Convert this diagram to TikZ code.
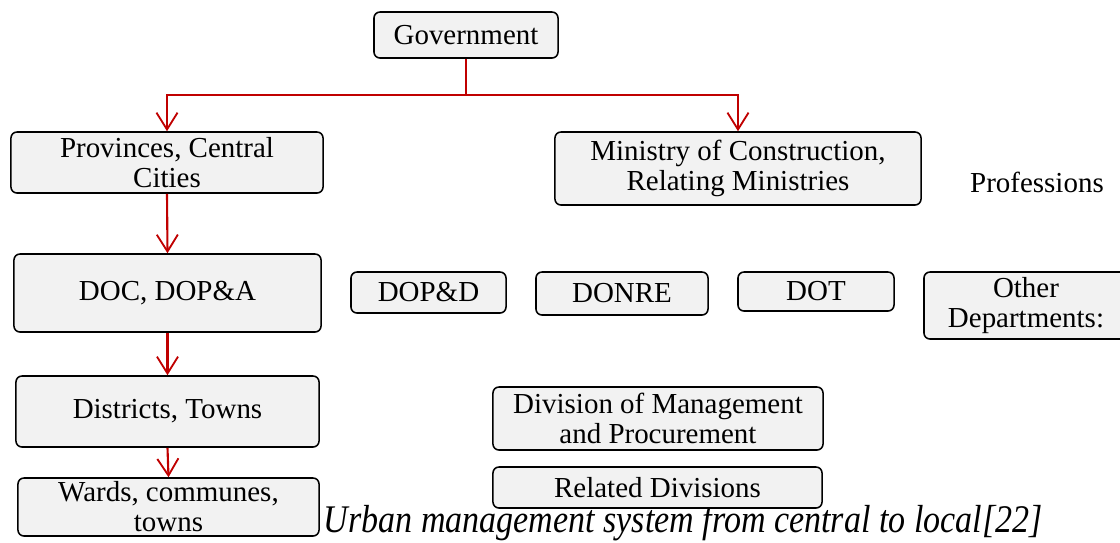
\documentclass[tikz,border=0pt]{standalone}
\usepackage{fontspec}
\setmainfont{Liberation Serif}
\usetikzlibrary{arrows.meta}
\definecolor{linkred}{RGB}{192,0,0}
\definecolor{boxgray}{RGB}{242,242,242}
\tikzset{
  txt/.style={font=\fontsize{20.6}{21.3}\selectfont, align=center},
  box/.style={txt, draw, rounded corners=0.15cm, fill=boxgray, line width=1.1pt, inner sep=0pt},
  link/.style={linkred, line width=1.5pt},
  tip/.style={-{Straight Barb[length=12pt, width=15pt, line width=1.3pt]}}
}

\begin{document}
\begin{tikzpicture}[x=0.025cm, y=-0.025cm]
  \useasboundingbox (0,0) rectangle (1120,542);

  % Caption (partly hidden by the lowest box)
  \node[font=\fontsize{24.2}{28}\selectfont\itshape, anchor=base east, inner sep=0pt] (cap) at (1043,532)
    {\scalebox{1}[1.15]{Urban management system from central to local[22]}};

  % Central level
  \node[box, minimum width=4.6cm, minimum height=1.15cm] (gov) at (466,35) {Government};
  \node[box, minimum width=7.8cm, minimum height=1.525cm] (prov) at (167,162.5) {Provinces, Central\\Cities};
  \node[box, minimum width=9.15cm, minimum height=1.825cm] (mini) at (738,168.5) {Ministry of Construction,\\Relating Ministries};
  \node[txt] (prof) at (1037,182) {Professions};

  % Departments
  \node[box, minimum width=7.675cm, minimum height=1.95cm] (doc) at (167.5,293) {DOC, DOP\&A};
  \node[box, minimum width=3.875cm, minimum height=1.025cm] (dopd) at (428.5,292.5) {DOP\&D};
  \node[box, minimum width=4.3cm, minimum height=1.075cm] (donre) at (622,293.5) {DONRE};
  \node[box, minimum width=3.9cm, minimum height=0.975cm] (dot) at (816,291.5) {DOT};
  \node[box, minimum width=5.1cm, minimum height=1.675cm] (other) at (1026,305.5) {Other\\Departments:};

  % Local level
  \node[box, minimum width=7.575cm, minimum height=1.775cm] (dist) at (167.5,411.5) {Districts, Towns};
  \node[box, minimum width=8.25cm, minimum height=1.575cm] (div) at (658,418.5) {Division of Management\\and Procurement};
  \node[box, minimum width=8.225cm, minimum height=1.025cm] (rel) at (657.5,487.5) {Related Divisions};
  \node[box, minimum width=7.525cm, minimum height=1.45cm] (wards) at (168.5,507) {Wards, communes,\\towns};

  % Links
  \coordinate (split) at (466,95);
  \draw[link] (gov.south) -- (split);
  \draw[link, tip] (split) -| (prov.north);
  \draw[link, tip] (split) -| (mini.north);
  \draw[link, tip] (prov.south) -- (doc.north);
  \draw[link, tip] (doc.south) -- (dist.north);
  \draw[link, tip] (dist.south) -- (wards.north);
\end{tikzpicture}
\end{document}
